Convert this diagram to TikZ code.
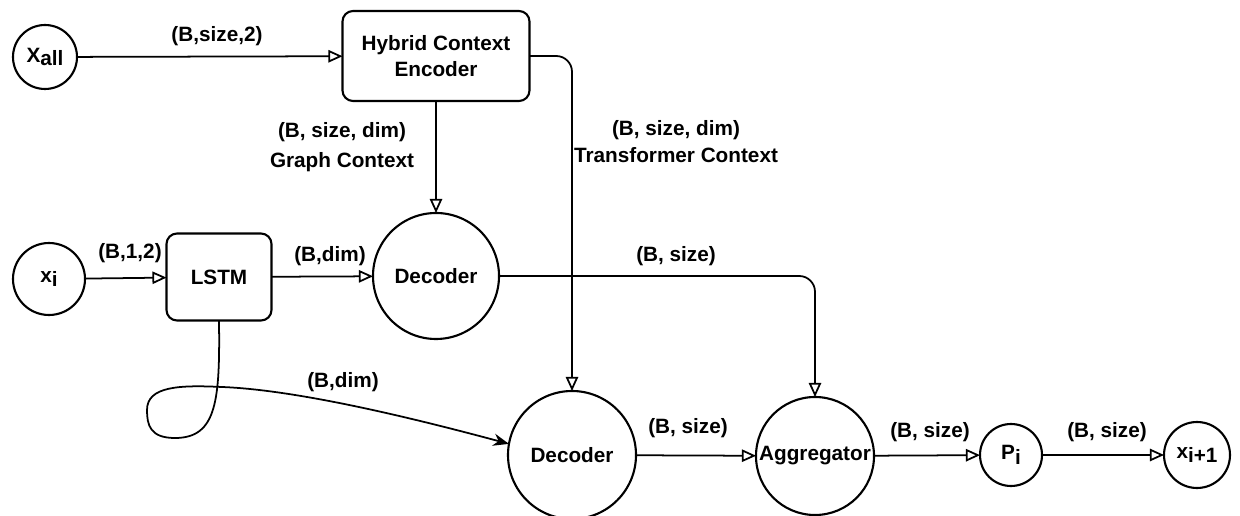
\documentclass[tikz,border=0pt]{standalone}
\usepackage{fontspec}
\setmainfont{Liberation Sans}
\usetikzlibrary{arrows.meta}
\begin{document}
\begin{tikzpicture}[x=0.02cm,y=-0.02cm,
  every node/.style={font=\fontsize{11.8}{14.5}\selectfont\bfseries},
  circ/.style={draw,circle,line width=1.2pt,inner sep=0pt,outer sep=0pt},
  box/.style={draw,rounded corners=6pt,line width=1.2pt,inner sep=0pt,outer sep=0pt,align=center},
  conn/.style={line width=1pt,-{Triangle[open,length=8pt,width=7pt]}},
  fconn/.style={line width=1pt,-{Stealth[length=9pt,width=7pt]}},
  lbl/.style={inner sep=1pt}
]
\useasboundingbox (0,0) rectangle (1240,516);

% nodes
\node[circ,minimum size=64*0.02cm] (xall) at (45,57) {X\raisebox{-0.35ex}{all}};
\node[box,minimum width=187*0.02cm,minimum height=90*0.02cm] (enc) at (436,56) {Hybrid Context\\Encoder};
\node[circ,minimum size=72*0.02cm] (xi) at (49,279) {x\raisebox{-0.4ex}{i}};
\node[box,minimum width=105*0.02cm,minimum height=87*0.02cm] (lstm) at (219,277) {LSTM};
\node[circ,minimum size=126*0.02cm] (dec1) at (436,276) {Decoder};
\node[circ,minimum size=128*0.02cm] (dec2) at (572,455) {Decoder};
\node[circ,minimum size=118*0.02cm] (agg) at (815,456) {Aggregator};
\node[circ,minimum size=62*0.02cm] (pi) at (1011,455) {P\raisebox{-0.4ex}{i}};
\node[circ,minimum size=66*0.02cm] (xnext) at (1197,455) {x\raisebox{-0.4ex}{i+1}};

% labels
\node[lbl] (l1) at (217,36) {(B,size,2)};
\node[lbl] (l2) at (342,132) {(B, size, dim)};
\node[lbl] (l3) at (342,162) {Graph Context};
\node[lbl] (l4) at (676,130) {(B, size, dim)};
\node[lbl] (l5) at (676,155) {Transformer Context};
\node[lbl] (l6) at (130,253) {(B,1,2)};
\node[lbl] (l7) at (330,256) {(B,dim)};
\node[lbl] (l8) at (676,256) {(B, size)};
\node[lbl] (l9) at (343,382) {(B,dim)};
\node[lbl] (l10) at (688,428) {(B, size)};
\node[lbl] (l11) at (930,432) {(B, size)};
\node[lbl] (l12) at (1107,432) {(B, size)};

% connectors
\draw[conn] (xall) -- (enc);
\draw[conn] (enc.south) -- (dec1.north);
\draw[conn,rounded corners=9pt] (enc.east) -| (dec2.north);
\draw[conn] (xi) -- (lstm);
\draw[conn] (lstm) -- (dec1);
\draw[conn,rounded corners=9pt] (dec1.east) -| (agg.north);
\draw[conn] (dec2) -- (agg);
\draw[conn] (agg) -- (pi);
\draw[conn] (pi) -- (xnext);
\coordinate (k1) at (175,438);
\coordinate (k2) at (147,410);
\coordinate (k3) at (222,387);
\draw[fconn] (lstm.south) .. controls (220,400) and (217,438) .. (k1)
  .. controls (150,438) and (147,425) .. (k2)
  .. controls (147,386) and (180,385) .. (k3)
  .. controls (300,390) and (420,420) .. (dec2.170);
\end{tikzpicture}
\end{document}
